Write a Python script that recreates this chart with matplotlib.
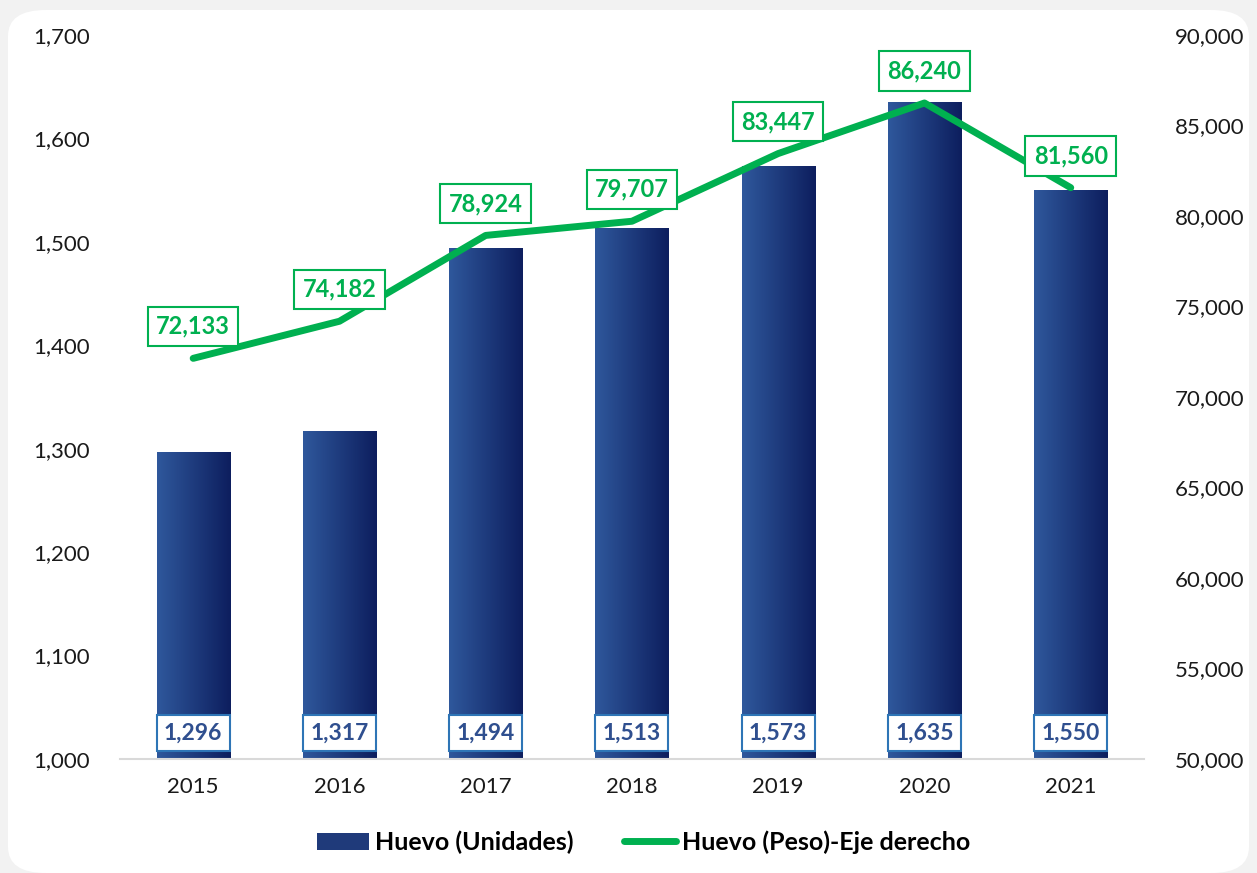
import matplotlib.pyplot as plt
import numpy as np
from matplotlib.patches import FancyBboxPatch, Patch
from matplotlib.lines import Line2D
from matplotlib.ticker import FuncFormatter

years = ["2015", "2016", "2017", "2018", "2019", "2020", "2021"]
unidades = [1296, 1317, 1494, 1513, 1573, 1635, 1550]
peso = [72133, 74182, 78924, 79707, 83447, 86240, 81560]

plt.rcParams['font.family'] = ['Lato', 'DejaVu Sans']

GREEN = "#00B050"
BLUE_LIGHT = np.array([0x2F, 0x58, 0x9C]) / 255
BLUE_DARK = np.array([0x0D, 0x1E, 0x5E]) / 255
BAR_TEXT = "#2F4F8F"
BOX_EDGE = "#2E75B6"

fig = plt.figure(figsize=(12.57, 8.73), dpi=100, facecolor="#F2F2F2")
card = FancyBboxPatch((8 / 1257, 0.0), 1 - 16 / 1257, 1 - 10 / 873,
                      boxstyle="round,pad=0,rounding_size=0.03",
                      transform=fig.transFigure, facecolor="white",
                      edgecolor="none", zorder=-10)
fig.patches.append(card)

ax = fig.add_axes([0.0955, 0.1306, 0.8145, 0.8294])
ax.set_facecolor("none")
x = np.arange(len(years))
width = 0.5

# gradient bars (light blue on the left -> navy on the right)
grad = np.linspace(0, 1, 256)
cols = BLUE_LIGHT[None, :] * (1 - grad[:, None]) + BLUE_DARK[None, :] * grad[:, None]
img = cols[None, :, :]
bars = ax.bar(x, unidades, width=width, bottom=0, color="none", zorder=2)
for b in bars:
    x0, w, h = b.get_x(), b.get_width(), b.get_height()
    ax.imshow(img, extent=(x0, x0 + w, 0, h), aspect="auto", zorder=2,
              interpolation="bilinear")
ax.set_xlim(-0.5, len(years) - 0.5)
ax.set_ylim(1000, 1700)
ax.set_yticks(np.arange(1000, 1701, 100))
ax.yaxis.set_major_formatter(FuncFormatter(lambda v, p: f"{v:,.0f}"))
ax.set_xticks(x)
ax.set_xticklabels(years)
ax.tick_params(axis="both", length=0, labelsize=16, colors="#1a1a1a")
ax.tick_params(axis="y", pad=22)
ax.tick_params(axis="x", pad=13)
for s in ["top", "left", "right"]:
    ax.spines[s].set_visible(False)
ax.spines["bottom"].set_color("#D9D9D9")
ax.spines["bottom"].set_linewidth(1.5)

for xi, v in zip(x, unidades):
    ax.text(xi, 1025, f"{v:,}", ha="center", va="center", fontsize=16.5,
            fontweight="bold", color=BAR_TEXT, zorder=5,
            bbox=dict(boxstyle="square,pad=0.32", facecolor="white",
                      edgecolor=BOX_EDGE, linewidth=1.5))

ax2 = ax.twinx()
ax2.plot(x, peso, color=GREEN, linewidth=5, solid_capstyle="round", zorder=3)
ax2.set_ylim(50000, 90000)
ax2.set_yticks(np.arange(50000, 90001, 5000))
ax2.yaxis.set_major_formatter(FuncFormatter(lambda v, p: f"{v:,.0f}"))
ax2.tick_params(axis="y", length=0, labelsize=16, colors="#1a1a1a", pad=22)
for s in ["top", "left", "right", "bottom"]:
    ax2.spines[s].set_visible(False)

for xi, v in zip(x, peso):
    ax2.annotate(f"{v:,}", (xi, v), xytext=(0, 23), textcoords="offset points",
                 ha="center", va="center", fontsize=17, fontweight="bold",
                 color=GREEN, zorder=6,
                 bbox=dict(boxstyle="square,pad=0.35", facecolor="white",
                           edgecolor=GREEN, linewidth=1.5))

handles = [Patch(facecolor="#1F3A7A", edgecolor="none"),
           Line2D([0], [0], color=GREEN, linewidth=5, solid_capstyle="round")]
fig.legend(handles, ["Huevo (Unidades)", "Huevo (Peso)-Eje derecho"],
           loc="center", bbox_to_anchor=(0.512, 0.035), ncol=2, frameon=False,
           prop=dict(size=18, weight="bold"), handlelength=2.1,
           handletextpad=0.24, columnspacing=2.0)

fig.savefig("out.png", dpi=100, facecolor=fig.get_facecolor())
